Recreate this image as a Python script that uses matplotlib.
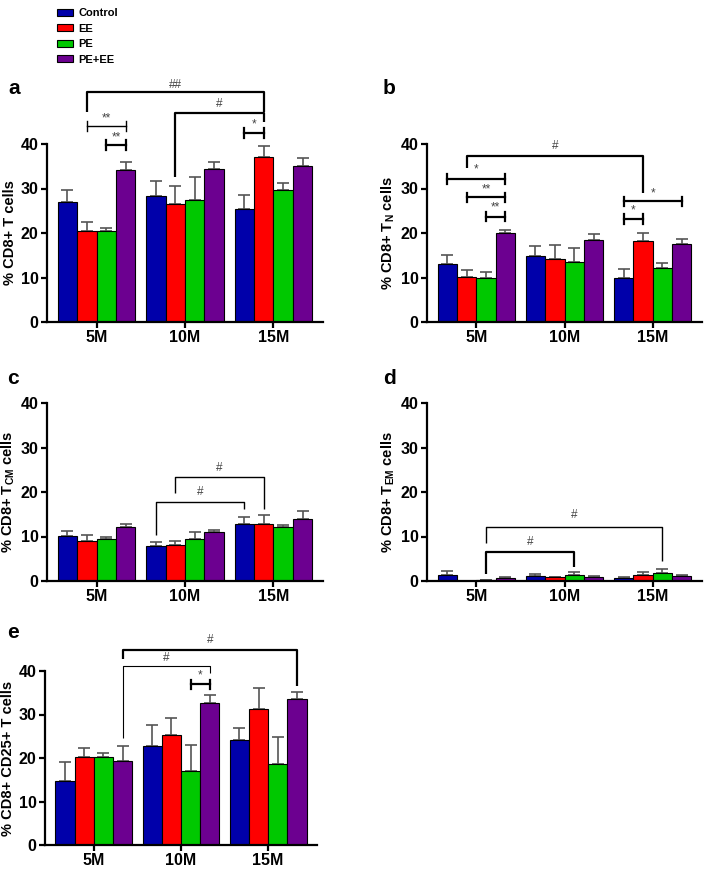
import matplotlib
matplotlib.use("Agg")
import matplotlib.pyplot as plt
from matplotlib.patches import Patch
import numpy as np

plt.rcParams['font.family'] = ['Liberation Sans', 'DejaVu Sans']
plt.rcParams['mathtext.fontset'] = 'custom'
plt.rcParams['mathtext.rm'] = 'Liberation Sans:bold'
plt.rcParams['mathtext.bf'] = 'Liberation Sans:bold'
plt.rcParams['mathtext.it'] = 'Liberation Sans:bold:italic'

groups = ["5M", "10M", "15M"]
series = ["Control", "EE", "PE", "PE+EE"]
colors = ["#0000aa", "#fe0000", "#00c800", "#6c0090"]

# means [group][series] and upper error (absolute top of error bar)
a_mean = [[26.9, 20.5, 20.5, 34.1], [28.3, 26.5, 27.5, 34.4], [25.5, 37.1, 29.7, 35.1]]
a_top = [[29.6, 22.4, 21.2, 36.0], [31.7, 30.5, 32.5, 35.9], [28.5, 39.6, 31.2, 36.8]]
b_mean = [[13.1, 10.2, 10.0, 19.9], [14.9, 14.2, 13.4, 18.4], [9.9, 18.2, 12.1, 17.5]]
b_top = [[15.0, 11.6, 11.2, 20.7], [17.1, 17.2, 16.6, 19.8], [11.8, 20.0, 13.3, 18.7]]
c_mean = [[10.1, 9.1, 9.4, 12.1], [7.9, 8.1, 9.4, 10.9], [12.7, 12.7, 12.1, 13.9]]
c_top = [[11.3, 10.4, 10.0, 12.9], [8.7, 9.1, 10.9, 11.4], [14.3, 14.8, 12.5, 15.8]]
d_mean = [[1.3, 0.1, 0.15, 0.75], [1.05, 0.8, 1.3, 0.8], [0.65, 1.3, 1.8, 1.1]]
d_top = [[2.2, 0.1, 0.15, 0.9], [1.6, 0.95, 2.1, 1.2], [1.0, 2.0, 2.6, 1.4]]
e_mean = [[14.6, 20.2, 20.2, 19.2], [22.8, 25.3, 16.9, 32.7], [24.1, 31.3, 18.7, 33.6]]
e_top = [[19.0, 22.2, 21.1, 22.8], [27.6, 29.2, 23.1, 34.4], [26.8, 36.1, 24.8, 35.2]]

ylabels = {
    "a": "% CD8+ T cells",
    "b": r"% CD8+ $\mathrm{T_{N}}$ cells",
    "c": r"% CD8+ $\mathrm{T_{CM}}$ cells",
    "d": r"% CD8+ $\mathrm{T_{EM}}$ cells",
    "e": "% CD8+ CD25+ T cells",
}

# annotations: (kind, (g1,s1), (g2,s2), y_line, y_left_bottom, y_right_bottom, text, y_text, lw)
ann_a = [
    ("drop", (0, 1), (2, 1), 51.6, 47.1, 47.1, "##", 53.3, 1.6),
    ("drop", (1, 1), (2, 1), 47.0, 32.5, 45.0, "#", 48.9, 1.6),
    ("cap", (0, 1), (0, 3), 44.1, None, None, "**", 45.8, 1.0),
    ("cap", (0, 2), (0, 3), 39.8, None, None, "**", 41.4, 1.6),
    ("cap", (2, 0), (2, 1), 42.4, None, None, "*", 44.3, 1.6),
]
ann_b = [
    ("drop", (0, 1), (2, 1), 37.3, 34.5, 29.1, "#", 39.6, 1.6),
    ("cap", (0, 0), (0, 3), 32.1, None, None, "*", 34.2, 1.6),
    ("cap", (0, 1), (0, 3), 28.0, None, None, "**", 29.8, 1.6),
    ("cap", (0, 2), (0, 3), 23.7, None, None, "**", 25.7, 1.6),
    ("cap", (2, 0), (2, 3), 27.1, None, None, "*", 28.9, 1.6),
    ("cap", (2, 0), (2, 1), 23.1, None, None, "*", 25.0, 1.6),
]
ann_c = [
    ("drop", (1, 1), (2, 1), 23.4, 19.8, 16.1, "#", 25.4, 1.0),
    ("drop", (1, 0), (2, 0), 17.8, 10.3, 16.1, "#", 20.0, 1.0),
]
ann_d = [
    ("drop", (0, 2), (2, 2), 12.2, 8.6, 4.5, "#", 14.8, 1.0),
    ("drop", (0, 2), (1, 2), 6.6, 1.6, 3.2, "#", 8.8, 1.6),
]
ann_e = [
    ("drop", (0, 3), (2, 3), 44.8, 42.7, 36.6, "#", 47.1, 1.6),
    ("drop", (0, 3), (1, 3), 41.1, 24.5, 39.5, "#", 43.1, 0.8),
    ("cap", (1, 2), (1, 3), 36.9, None, None, "*", 38.9, 1.6),
]

W = 0.22
offsets = [-0.33, -0.11, 0.11, 0.33]


def xpos(gs):
    g, s = gs
    return g + offsets[s]


def draw_panel(ax, mean, top, label, ylabel, anns):
    mean = np.array(mean)
    top = np.array(top)
    x = np.arange(len(groups))
    for s in range(len(series)):
        m = mean[:, s]
        err = np.clip(top[:, s] - m, 0, None)
        ax.bar(x + offsets[s], m, width=W, color=colors[s], edgecolor="black",
               linewidth=0.8, zorder=2)
        ax.errorbar(x + offsets[s], m, yerr=[np.zeros_like(err), err], fmt="none",
                    ecolor="#555555", elinewidth=1.2, capsize=4.5, capthick=1.2, zorder=1)
    ax.set_xlim(-0.56, 2.56)
    ax.set_ylim(0, 40)
    ax.set_yticks([0, 10, 20, 30, 40])
    ax.set_xticks(x)
    ax.set_xticklabels(groups)
    for sp in ["top", "right"]:
        ax.spines[sp].set_visible(False)
    for sp in ["left", "bottom"]:
        ax.spines[sp].set_linewidth(1.6)
    ax.tick_params(axis="both", width=1.6, length=4, labelsize=11.5, pad=2)
    for t in ax.get_xticklabels() + ax.get_yticklabels():
        t.set_fontweight("bold")
    ax.set_ylabel(ylabel, fontsize=10.5, fontweight="bold", labelpad=3)
    for kind, p1, p2, y, yb1, yb2, txt, yt, lw in anns:
        x1, x2 = xpos(p1), xpos(p2)
        if kind == "drop":
            ax.plot([x1, x1, x2, x2], [yb1, y, y, yb2], color="black", lw=lw,
                    clip_on=False, solid_capstyle="butt", zorder=3)
        else:
            ax.plot([x1, x2], [y, y], color="black", lw=lw, clip_on=False, zorder=3)
            ax.plot([x1, x1], [y - 1.1, y + 1.1], color="black", lw=lw, clip_on=False, zorder=3)
            ax.plot([x2, x2], [y - 1.1, y + 1.1], color="black", lw=lw, clip_on=False, zorder=3)
        ax.text((x1 + x2) / 2, yt, txt, ha="center", va="center", fontsize=8.5,
                color="#444444", clip_on=False)


fig = plt.figure(figsize=(7.08, 8.69), dpi=100)
H = 178 / 869
pos = {
    "a": [47 / 708, 1 - 322 / 869, 276 / 708, H],
    "b": [427 / 708, 1 - 322 / 869, 275 / 708, H],
    "c": [47 / 708, 1 - 581 / 869, 276 / 708, H],
    "d": [427 / 708, 1 - 581 / 869, 275 / 708, H],
    "e": [45 / 708, 1 - 845 / 869, 272 / 708, 174 / 869],
}
data = {
    "a": (a_mean, a_top, ann_a),
    "b": (b_mean, b_top, ann_b),
    "c": (c_mean, c_top, ann_c),
    "d": (d_mean, d_top, ann_d),
    "e": (e_mean, e_top, ann_e),
}
label_pos = {"a": (8, 88), "b": (383, 88), "c": (7, 378), "d": (383, 378), "e": (7, 633)}

for k in ["a", "b", "c", "d", "e"]:
    ax = fig.add_axes(pos[k])
    m, t, an = data[k]
    draw_panel(ax, m, t, k, ylabels[k], an)
    lx, ly = label_pos[k]
    fig.text(lx / 708, 1 - ly / 869, k, fontsize=15, fontweight="bold", ha="left", va="center")

handles = [Patch(facecolor=c, edgecolor="black", linewidth=0.8) for c in colors]
fig.legend(handles, series, loc="upper left", bbox_to_anchor=(57 / 708, 1 - 8 / 869),
           frameon=False, prop={"weight": "bold", "size": 8}, handlelength=1.4,
           handleheight=0.6, handletextpad=0.55, labelspacing=0.5, borderaxespad=0,
           borderpad=0)

fig.savefig("out.png", dpi=100)
